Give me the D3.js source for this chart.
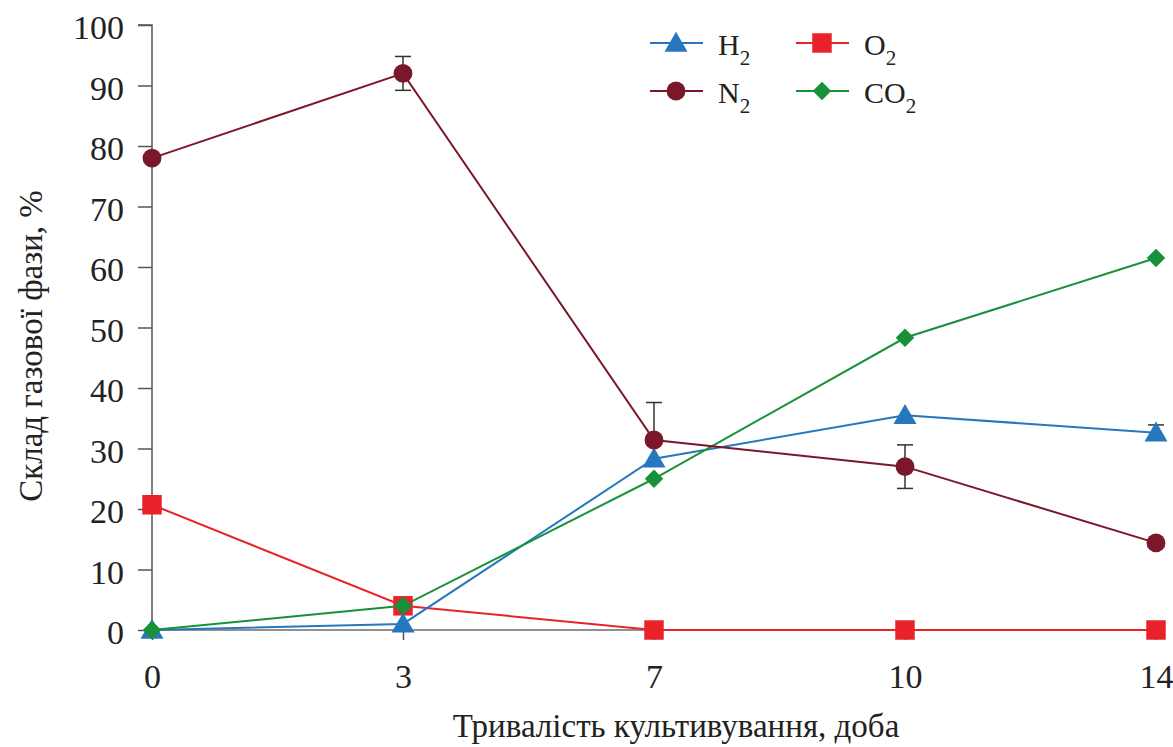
<!DOCTYPE html>
<html>
<head>
<meta charset="utf-8">
<script src="https://cdn.jsdelivr.net/npm/d3@7"></script>
</head>
<body style="margin:0;background:#fff">
<svg></svg>
<script>
const width = 1173;
const height = 747;

// data
const days = ["0", "3", "7", "10", "14"];
const h2 = [0, 1, 28.3, 35.5, 32.6];
const n2 = [78, 92, 31.4, 27, 14.4];
const o2 = [20.7, 4, 0, 0, 0];
const co2 = [0, 4, 25, 48.3, 61.5];
const n2ErrUp = [0, 2.8, 6.2, 3.6, 0];
const n2ErrDown = [0, 2.8, 0, 3.6, 0];
const h2ErrUp = [0, 0, 0, 0, 1.3];
const yTicks = [0, 10, 20, 30, 40, 50, 60, 70, 80, 90, 100];

const series = [
    {name: "H", sub: "2", values: h2, color: "#2677bd", shape: "triangle"},
    {name: "N", sub: "2", values: n2, color: "#7a1728", shape: "circle"},
    {name: "O", sub: "2", values: o2, color: "#e8232a", shape: "square"},
    {name: "CO", sub: "2", values: co2, color: "#17913a", shape: "diamond"}
];

const serif = "Liberation Serif";
const tickFont = 34;
const titleFont = 33;

const svg = d3.select("svg")
    .attr("width", width)
    .attr("height", height)
    .attr("font-family", serif);

const margin = {top: 25, right: 17, bottom: 117, left: 152};

const x = d3.scalePoint()
    .domain(days)
    .range([margin.left, width - margin.right]);

const y = d3.scaleLinear()
    .domain([0, 100])
    .range([height - margin.bottom, margin.top]);

// y axis
const yAxis = svg.append("g")
    .attr("transform", "translate(" + margin.left + ",0)")
    .call(d3.axisLeft(y).tickValues(yTicks).tickSize(14).tickPadding(14));
yAxis.attr("font-family", serif).attr("font-size", tickFont);
yAxis.select(".domain").attr("stroke", "#555").attr("stroke-width", 1.5)
    .attr("d", "M-14," + y(100) + "H0V" + y(0));
yAxis.selectAll(".tick line").attr("stroke", "#555").attr("stroke-width", 1.5);
yAxis.selectAll(".tick text").attr("fill", "#222").attr("dy", "0.4em");

// x axis
const xAxis = svg.append("g")
    .attr("transform", "translate(0," + y(0) + ")")
    .call(d3.axisBottom(x).tickSize(10).tickPadding(24));
xAxis.attr("font-family", serif).attr("font-size", tickFont);
xAxis.select(".domain").attr("stroke", "#222").attr("stroke-width", 1.2)
    .attr("d", "M" + x("0") + ",0H" + x("14"));
xAxis.selectAll(".tick line").attr("stroke", "#555").attr("stroke-width", 1.5);
xAxis.selectAll(".tick text").attr("fill", "#222");

// axis titles
svg.append("text")
    .attr("x", 676)
    .attr("y", 737)
    .attr("text-anchor", "middle")
    .attr("font-size", titleFont)
    .attr("fill", "#222")
    .text("Тривалість культивування, доба");

svg.append("text")
    .attr("transform", "translate(42,346) rotate(-90)")
    .attr("text-anchor", "middle")
    .attr("font-size", titleFont)
    .attr("fill", "#222")
    .text("Склад газової фази, %");

// error bars (behind lines)
const errG = svg.append("g").attr("stroke", "#333").attr("stroke-width", 1.5);
function drawErr(values, up, down) {
    values.forEach(function(v, i) {
        if (!up[i] && !down[i]) return;
        const cx = x(days[i]);
        const top = y(v + up[i]);
        const bot = y(v - down[i]);
        errG.append("line").attr("x1", cx).attr("x2", cx).attr("y1", top).attr("y2", bot);
        if (up[i]) errG.append("line").attr("x1", cx - 8).attr("x2", cx + 8).attr("y1", top).attr("y2", top);
        if (down[i]) errG.append("line").attr("x1", cx - 8).attr("x2", cx + 8).attr("y1", bot).attr("y2", bot);
    });
}
drawErr(n2, n2ErrUp, n2ErrDown);
drawErr(h2, h2ErrUp, [0, 0, 0, 0, 0]);

const line = d3.line()
    .x((d, i) => x(days[i]))
    .y(d => y(d));

const symbols = {
    triangle: d3.symbol().type(d3.symbolTriangle).size(230),
    circle: d3.symbol().type(d3.symbolCircle).size(280),
    square: d3.symbol().type(d3.symbolSquare).size(380),
    diamond: d3.symbol().type(d3.symbolSquare).size(170)
};
function markerTransform(shape, cx, cy) {
    if (shape === "triangle") return "translate(" + cx + "," + (cy + 2) + ")";
    if (shape === "diamond") return "translate(" + cx + "," + cy + ") rotate(45)";
    return "translate(" + cx + "," + cy + ")";
}

// draw order: O2, H2, CO2, N2
const order = [2, 0, 3, 1];
order.forEach(function(k) {
    const s = series[k];
    svg.append("path")
        .datum(s.values)
        .attr("fill", "none")
        .attr("stroke", s.color)
        .attr("stroke-width", 2)
        .attr("d", line);
});
order.forEach(function(k) {
    const s = series[k];
    svg.selectAll(null)
        .data(s.values)
        .enter().append("path")
            .attr("transform", (d, i) => markerTransform(s.shape, x(days[i]), y(d)))
            .attr("d", symbols[s.shape])
            .attr("fill", s.color);
});

// legend
const legendPos = [
    {x: 650, y: 43}, {x: 650, y: 91}, {x: 796, y: 43}, {x: 796, y: 91}
];
series.forEach(function(s, k) {
    const p = legendPos[k];
    const lg = svg.append("g").attr("transform", "translate(" + p.x + "," + p.y + ")");
    lg.append("line").attr("x1", 0).attr("x2", 53).attr("y1", 0).attr("y2", 0)
        .attr("stroke", s.color).attr("stroke-width", 2);
    lg.append("path")
        .attr("transform", markerTransform(s.shape, 26, 0))
        .attr("d", symbols[s.shape])
        .attr("fill", s.color);
    const t = lg.append("text")
        .attr("x", 68)
        .attr("y", 12)
        .attr("font-size", 30)
        .attr("fill", "#222");
    t.append("tspan").text(s.name);
    t.append("tspan").attr("font-size", 21).attr("dy", 10).text(s.sub);
});
</script>
</body>
</html>
